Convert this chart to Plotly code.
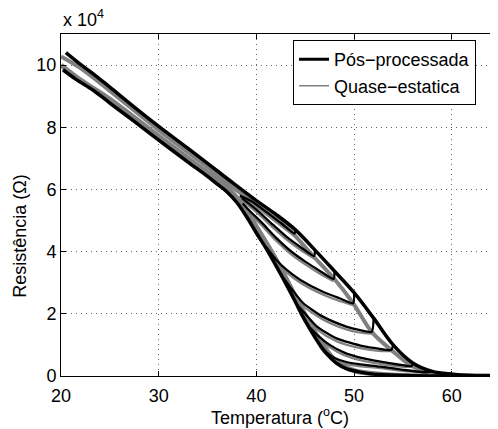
import plotly.graph_objects as go

# resistance in units of 1e4 ohm, temperature in degC

# major loop, post-processed (black)
T_up_black = [20.5, 22.0, 23.3, 25.0, 27.5, 30.0, 33.0, 35.0, 37.3, 40.0, 42.0, 44.0, 46.0, 48.0,
              50.0, 52.0, 54.0, 56.0, 58.0, 60.0, 62.0, 64.7]
R_up_black = [10.4, 10.02, 9.72, 9.29, 8.65, 8.03, 7.32, 6.84, 6.28, 5.64, 5.2, 4.7, 4.05, 3.37,
              2.68, 1.86, 1.0, 0.42, 0.15, 0.06, 0.02, 0.0]
T_lo_black = [20.2, 21.5, 23.3, 25.0, 27.5, 30.0, 33.0, 35.0, 36.0, 37.0, 38.0, 39.0, 40.0, 41.1,
              42.0, 43.0, 44.0, 44.6, 45.5, 46.5, 47.3, 48.2, 49.2, 50.4, 52.0, 55.0, 60.0, 64.7]
R_lo_black = [9.85, 9.55, 9.19, 8.78, 8.19, 7.59, 6.88, 6.42, 6.17, 5.92, 5.58, 5.12, 4.6, 4.05,
              3.55, 2.98, 2.38, 2.0, 1.5, 1.0, 0.68, 0.41, 0.24, 0.14, 0.06, 0.02, 0.0, 0.0]

# major loop, quasi-static (gray)
T_up_gray = [20.0, 22.0, 25.0, 30.0, 35.0, 38.0, 40.0, 42.8, 45.8, 47.9, 49.9, 51.8, 53.8, 55.9,
             57.4, 60.0, 64.7]
R_up_gray = [10.28, 9.9, 9.17, 7.91, 6.72, 5.97, 5.5, 4.88, 3.86, 3.15, 2.34, 1.42, 0.84, 0.32,
             0.14, 0.04, 0.01]
T_lo_gray = [20.0, 22.0, 25.0, 30.0, 35.0, 37.0, 38.0, 40.0, 42.0, 44.0, 46.0, 48.0, 50.0, 53.0,
             58.0, 64.7]
R_lo_gray = [10.0, 9.52, 8.9, 7.71, 6.54, 6.07, 5.73, 4.8, 3.75, 2.55, 1.4, 0.52, 0.17, 0.05,
             0.0, 0.0]

# minor loops (reversal at 44..58 degC), black = post-processed
minor_T_black = [
    [44.0, 43.9, 42.5, 41.0, 39.5, 38.3],
    [46.0, 45.9, 44.5, 43.0, 41.5, 40.0, 38.5],
    [48.0, 47.9, 46.5, 45.0, 43.5, 42.0, 40.5, 39.5, 38.6],
    [50.0, 49.9, 48.5, 46.8, 44.5, 43.1, 42.0, 41.0],
    [52.0, 51.8, 50.5, 49.2, 46.8, 44.8, 43.6, 42.8],
    [54.0, 53.8, 52.5, 50.9, 48.2, 46.2, 45.0, 44.2],
    [56.0, 55.9, 54.5, 52.7, 50.5, 49.0, 47.5, 46.3, 45.5],
    [58.0, 57.4, 55.0, 52.7, 50.5, 49.2, 48.0, 47.2, 46.5],
]
minor_R_black = [
    [4.7, 4.58, 4.92, 5.28, 5.62, 5.8],
    [4.05, 3.86, 4.15, 4.5, 4.92, 5.35, 5.72],
    [3.37, 3.12, 3.38, 3.68, 4.02, 4.45, 4.95, 5.25, 5.55],
    [2.68, 2.34, 2.5, 2.71, 3.09, 3.41, 3.75, 4.15],
    [1.86, 1.42, 1.48, 1.59, 1.91, 2.34, 2.8, 3.15],
    [1.0, 0.84, 0.88, 0.96, 1.21, 1.59, 2.0, 2.28],
    [0.42, 0.32, 0.37, 0.46, 0.6, 0.75, 1.0, 1.3, 1.55],
    [0.15, 0.12, 0.2, 0.3, 0.38, 0.45, 0.58, 0.75, 1.0],
]

# minor loops, gray = quasi-static
minor_T_gray = [
    [43.9, 42.5, 41.0, 39.5, 38.3],
    [45.9, 44.5, 43.0, 41.5, 40.0, 38.5],
    [47.9, 46.5, 45.0, 43.5, 42.0, 40.5, 39.5, 38.6],
    [49.9, 48.5, 46.8, 44.5, 43.1, 42.0, 41.0],
    [51.8, 50.5, 49.2, 46.8, 44.8, 43.6, 42.8],
    [53.8, 52.5, 50.9, 48.2, 46.2, 45.0, 44.2],
    [55.9, 54.5, 52.7, 50.5, 49.0, 47.5, 46.3, 45.5],
    [57.4, 55.0, 52.7, 50.5, 49.2, 48.0, 47.2, 46.5],
]
minor_R_gray = [
    [4.5, 4.84, 5.2, 5.55, 5.74],
    [3.78, 4.06, 4.41, 4.83, 5.27, 5.65],
    [3.05, 3.29, 3.59, 3.93, 4.36, 4.86, 5.17, 5.48],
    [2.28, 2.41, 2.62, 3.0, 3.32, 3.66, 4.07],
    [1.36, 1.4, 1.5, 1.82, 2.25, 2.71, 3.07],
    [0.8, 0.81, 0.88, 1.12, 1.5, 1.92, 2.2],
    [0.29, 0.31, 0.39, 0.52, 0.67, 0.92, 1.22, 1.48],
    [0.1, 0.16, 0.25, 0.32, 0.38, 0.51, 0.68, 0.94],
]

xticks = [20, 30, 40, 50, 60]
yticks = [0, 2, 4, 6, 8, 10]

BLACK = "#000000"
GRAY = "#808080"
FONT = "Liberation Sans, Arial, sans-serif"
FS = 18

fig = go.Figure()

# gray quasi-static curves underneath
for tt, rr in zip(minor_T_gray, minor_R_gray):
    fig.add_trace(go.Scatter(x=tt, y=rr, mode="lines", line=dict(color=GRAY, width=2.2, shape="spline"),
                             showlegend=False, hoverinfo="skip"))
fig.add_trace(go.Scatter(x=T_lo_gray, y=R_lo_gray, mode="lines",
                         line=dict(color=GRAY, width=5, shape="spline"), showlegend=False))
fig.add_trace(go.Scatter(x=T_up_gray, y=R_up_gray, mode="lines",
                         line=dict(color=GRAY, width=4, shape="spline"), showlegend=False))

# black post-processed curves
for tt, rr in zip(minor_T_black, minor_R_black):
    fig.add_trace(go.Scatter(x=tt, y=rr, mode="lines",
                             line=dict(color=BLACK, width=2.3, shape="spline", smoothing=0.6),
                             showlegend=False, hoverinfo="skip"))
fig.add_trace(go.Scatter(x=T_lo_black, y=R_lo_black, mode="lines",
                         line=dict(color=BLACK, width=3.5, shape="spline"), showlegend=False))
fig.add_trace(go.Scatter(x=T_up_black, y=R_up_black, mode="lines",
                         line=dict(color=BLACK, width=3.5, shape="spline"), showlegend=False))

# legend entries
fig.add_trace(go.Scatter(x=[None], y=[None], mode="lines", name="Pós−processada",
                         line=dict(color=BLACK, width=3)))
fig.add_trace(go.Scatter(x=[None], y=[None], mode="lines", name="Quase−estatica",
                         line=dict(color=GRAY, width=1.5)))

# the page body adds an 8 px offset, so the figure is 8 px smaller than the window
fig.update_layout(
    width=490, height=421,
    margin=dict(l=53, r=0, t=26, b=53),
    plot_bgcolor="white", paper_bgcolor="white",
    font=dict(family=FONT, size=FS, color="black"),
    showlegend=True,
    legend=dict(x=0.531, y=0.982, xanchor="left", yanchor="top",
                bgcolor="white", bordercolor="black", borderwidth=1,
                font=dict(family=FONT, size=FS, color="black"),
                tracegroupgap=0, itemwidth=30),
)
fig.update_xaxes(range=[20, 64.73], tickvals=xticks, ticktext=[str(v) for v in xticks],
                 ticks="inside", ticklen=5, tickcolor="black", showline=True, linecolor="black",
                 linewidth=1, mirror="ticks", showgrid=True, gridcolor="#666666", griddash="1px,4px",
                 gridwidth=1, zeroline=False, tickfont=dict(size=FS), ticklabelstandoff=3)
fig.update_yaxes(range=[0, 11], tickvals=yticks, ticktext=[str(v) for v in yticks],
                 ticks="inside", ticklen=5, tickcolor="black", showline=True, linecolor="black",
                 linewidth=1, mirror=False, showgrid=True, gridcolor="#666666", griddash="1px,4px",
                 gridwidth=1, zeroline=False, tickfont=dict(size=FS))

fig.add_annotation(text="x 10<sup>4</sup>", xref="paper", yref="paper", x=0.0, y=1.005,
                   xanchor="left", yanchor="bottom", showarrow=False, font=dict(size=FS))
fig.add_annotation(text="Temperatura (<sup>o</sup>C)", xref="paper", yref="paper", x=0.5, y=-0.079,
                   xanchor="center", yanchor="top", showarrow=False, font=dict(size=FS))
fig.add_annotation(text="Resistência (Ω)", xref="paper", yref="paper", x=-0.094, y=0.41,
                   xanchor="center", yanchor="middle", textangle=-90, showarrow=False,
                   font=dict(size=FS))

fig.write_html("out.html")
